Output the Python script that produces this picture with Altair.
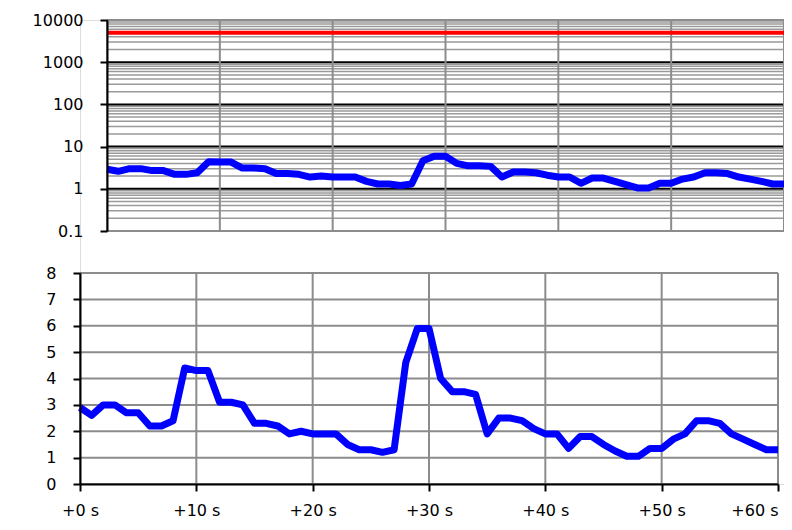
import altair as alt
import pandas as pd

# ---- data ----
seconds = list(range(61))
values = [2.9, 2.6, 3.0, 3.0, 2.7, 2.7, 2.2, 2.2, 2.4, 4.4,
          4.3, 4.3, 3.1, 3.1, 3.0, 2.3, 2.3, 2.2, 1.9, 2.0,
          1.9, 1.9, 1.9, 1.5, 1.3, 1.3, 1.2, 1.3, 4.6, 5.9,
          5.9, 4.0, 3.5, 3.5, 3.4, 1.9, 2.5, 2.5, 2.4, 2.1,
          1.9, 1.9, 1.35, 1.8, 1.8, 1.5, 1.25, 1.05, 1.05, 1.35,
          1.35, 1.7, 1.9, 2.4, 2.4, 2.3, 1.9, 1.7, 1.5, 1.3, 1.3]
threshold = [5000]
log_major = [0.1, 1, 10, 100, 1000, 10000]
log_major_labels = ["0.1", "1", "10", "100", "1000", "10000"]
log_minor = [m * 10.0 ** e for e in range(-1, 4) for m in range(2, 10)]
lin_ticks = [0, 1, 2, 3, 4, 5, 6, 7, 8]
x_ticks = [0, 10, 20, 30, 40, 50, 60]
x_tick_labels = ["+0 s", "+10 s", "+20 s", "+30 s", "+40 s", "+50 s", "+60 s"]


def label_expr(vals, labels):
    expr = "''"
    for v, l in reversed(list(zip(vals, labels))):
        expr = f"datum.value == {v} ? '{l}' : ({expr})"
    return expr


FONT = "DejaVu Sans"
GRID = "#8c8c8c"
MINOR = "#9a9a9a"
BLUE = "#0000ff"

df = pd.DataFrame({"t": seconds, "v": values})
minor_df = pd.DataFrame({"m": log_minor})
edge_df = pd.DataFrame({"m": [log_major[0], log_major[-1]]})
inner_df = pd.DataFrame({"m": log_major[1:-1]})
thr_df = pd.DataFrame({"thr": threshold})
xgrid_df = pd.DataFrame({"t": x_ticks})
lin_df = pd.DataFrame({"g": lin_ticks})

# ---- layout: one plot area holding both panels ----
W, H = 704, 464
xs_top = alt.Scale(domain=[0, 60], range=[27, 704], nice=False, zero=False)
ys_top = alt.Scale(type="log", domain=[0.1, 10000], range=[211, 0], nice=False)
xs_bot = alt.Scale(domain=[0, 60], range=[0, 698], nice=False, zero=False)
ys_bot = alt.Scale(domain=[0, 8], range=[464, 253], nice=False)

axis_common = dict(labelFont=FONT, labelFontSize=16, labelColor="black",
                   tickColor="black", tickSize=7, tickWidth=2,
                   domainColor="black", domainWidth=2, grid=False, title=None, zindex=1)

yaxis_top = alt.Axis(orient="left", offset=-27, values=log_major,
                     labelExpr=label_expr(log_major, log_major_labels),
                     labelPadding=17, **axis_common)
yaxis_bot = alt.Axis(orient="left", values=lin_ticks, labelPadding=17, **axis_common)
xaxis_bot = alt.Axis(orient="bottom", values=x_ticks,
                     labelExpr=label_expr(x_ticks, x_tick_labels),
                     labelAlign={"condition": {"test": f"datum.value == {x_ticks[-1]}", "value": "right"},
                                 "value": "center"},
                     labelPadding=11, labelFlush=False, labelOverlap=False, **axis_common)

def xspan_top():
    return dict(x=alt.XDatum(0, type="quantitative", scale=xs_top, axis=None), x2=alt.X2Datum(60))

def xspan_bot():
    return dict(x=alt.XDatum(0, type="quantitative", scale=xs_bot, axis=None), x2=alt.X2Datum(60))

# top panel
top_minor = alt.Chart(minor_df).mark_rule(color=MINOR, strokeWidth=1.5).encode(
    y=alt.Y("m:Q", scale=ys_top, axis=None), **xspan_top())
top_edges = alt.Chart(edge_df).mark_rule(color=GRID, strokeWidth=2).encode(
    y=alt.Y("m:Q", scale=ys_top, axis=None), **xspan_top())
top_inner = alt.Chart(inner_df).mark_rule(color="black", strokeWidth=2).encode(
    y=alt.Y("m:Q", scale=ys_top, axis=None), **xspan_top())
top_vgrid = alt.Chart(xgrid_df).mark_rule(color=GRID, strokeWidth=2).encode(
    x=alt.X("t:Q", scale=xs_top, axis=None),
    y=alt.YDatum(0.1, type="quantitative", scale=ys_top, axis=None), y2=alt.Y2Datum(10000))
top_red = alt.Chart(thr_df).mark_rule(color="#ff0000", strokeWidth=4).encode(
    y=alt.Y("thr:Q", scale=ys_top, axis=None), **xspan_top())
top_line = alt.Chart(df).mark_line(color=BLUE, strokeWidth=7, strokeJoin="round").encode(
    x=alt.X("t:Q", scale=xs_top, axis=None), y=alt.Y("v:Q", scale=ys_top, axis=yaxis_top))

# bottom panel
bot_hgrid = alt.Chart(lin_df).mark_rule(color=GRID, strokeWidth=2).encode(
    y=alt.Y("g:Q", scale=ys_bot, axis=None), **xspan_bot())
bot_vgrid = alt.Chart(xgrid_df).mark_rule(color=GRID, strokeWidth=2).encode(
    x=alt.X("t:Q", scale=xs_bot, axis=None),
    y=alt.YDatum(0, type="quantitative", scale=ys_bot, axis=None), y2=alt.Y2Datum(8))
bot_line = alt.Chart(df).mark_line(color=BLUE, strokeWidth=7, strokeJoin="round").encode(
    x=alt.X("t:Q", scale=xs_bot, axis=xaxis_bot), y=alt.Y("v:Q", scale=ys_bot, axis=yaxis_bot))

chart = alt.layer(
    top_minor, top_edges, top_inner, top_vgrid, top_red, top_line,
    bot_hgrid, bot_vgrid, bot_line,
).resolve_scale(x="independent", y="independent").properties(
    width=W, height=H,
    autosize=alt.AutoSizeParams(type="none"),
    padding={"left": 72, "top": 12, "right": 0, "bottom": 38},
).configure_view(strokeWidth=0).configure(background="white")

chart.save("out.html", embed_options={"renderer": "svg", "actions": False})
